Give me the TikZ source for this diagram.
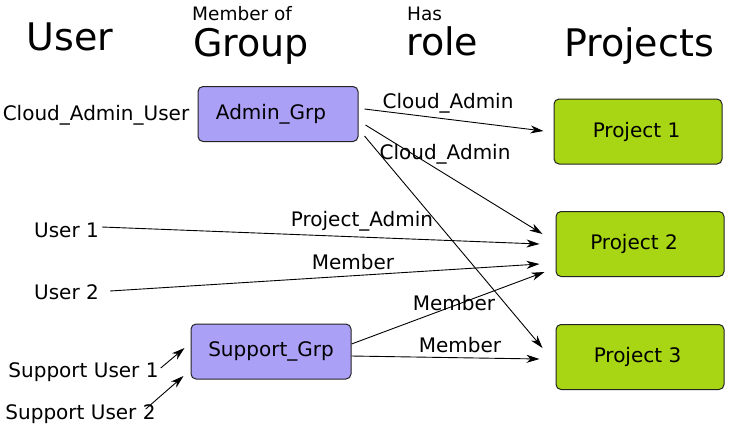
\documentclass[tikz,border=0pt]{standalone}
\usepackage{fontspec}
\setmainfont{DejaVu Sans}
\usetikzlibrary{arrows.meta}
\definecolor{grpfill}{RGB}{170,160,246}
\definecolor{projfill}{RGB}{168,214,20}
\definecolor{edge}{RGB}{35,35,35}
\begin{document}
\begin{tikzpicture}[x=1pt, y=1pt,
  lbl/.style={inner sep=0pt, anchor=base, font=\fontsize{20}{24}\selectfont},
  head/.style={inner sep=0pt, anchor=base, font=\fontsize{38}{44}\selectfont},
  sub/.style={inner sep=0pt, anchor=base west, font=\fontsize{18.5}{22}\selectfont},
  grp/.style={draw=edge, line width=1pt, rounded corners=5pt, fill=grpfill, minimum width=160pt, minimum height=55pt, inner sep=0pt, font=\fontsize{20}{24}\selectfont},
  proj/.style={draw=edge, line width=1pt, rounded corners=5pt, fill=projfill, minimum width=168pt, minimum height=65pt, inner sep=0pt, font=\fontsize{20}{24}\selectfont},
  arr/.style={-{Stealth[length=13pt, width=8pt, inset=4pt]}, line width=0.9pt}]
\useasboundingbox (0,0) rectangle (743,-432);
% column titles
\node[head] (tuser) at (70,-50) {User};
\node[sub] (tmember) at (192,-20) {Member of};
\node[head, anchor=base west] (tgroup) at (193,-56) {Group};
\node[sub] (thas) at (407,-20) {Has};
\node[head, anchor=base west] (trole) at (406,-55) {role};
\node[head] (tproj) at (639,-56) {Projects};
% users
\node[lbl] (cau) at (96,-120) {Cloud\_Admin\_User};
\node[lbl] (user1) at (66.5,-237) {User 1};
\node[lbl] (user2) at (66.5,-299) {User 2};
\node[lbl] (su1) at (83.5,-377) {Support User 1};
\node[lbl] (su2) at (80.5,-419) {Support User 2};
% groups
\node[grp] (admin) at (278,-114) {\kern-14pt Admin\_Grp};
\node[grp] (support) at (271,-351.5) {Support\_Grp};
% projects
\node[proj] (p1) at (638,-131.5) {\kern-3pt Project 1};
\node[proj] (p2) at (640,-244) {\kern-12pt Project 2};
\node[proj] (p3) at (640,-357) {\kern-5pt Project 3};
% roles
\draw[arr] ([shift={(6,5)}]admin.east) -- ([shift={(-10,0.5)}]p1.west);
\draw[arr] ([shift={(7,-11)}]admin.east) -- ([shift={(-13,10)}]p2.west);
\draw[arr] ([shift={(6,-22)}]admin.east) -- ([shift={(-13,9)}]p3.west);
\draw[arr] ([shift={(3,10)}]user1.base east) -- ([shift={(-16,0)}]p2.west);
\draw[arr] ([shift={(11,8)}]user2.base east) -- ([shift={(-16,-20)}]p2.west);
\draw[arr] ([shift={(0,7.5)}]support.east) -- ([shift={(-11,-28)}]p2.west);
\draw[arr] ([shift={(0,-4.5)}]support.east) -- ([shift={(-16,-2)}]p3.west);
\draw[arr] ([shift={(2,9)}]su1.base east) -- ([shift={(-6,3.5)}]support.west);
\draw[arr] ([shift={(-10,10)}]su2.base east) -- ([shift={(-7,-24.5)}]support.west);
% role labels
\node[lbl] (r1) at (448,-108) {Cloud\_Admin};
\node[lbl] (r2) at (445,-159) {Cloud\_Admin};
\node[lbl] (r3) at (362,-226) {Project\_Admin};
\node[lbl] (r4) at (353,-269) {Member};
\node[lbl] (r5) at (454,-310) {Member};
\node[lbl] (r6) at (460,-352) {Member};
\end{tikzpicture}
\end{document}
